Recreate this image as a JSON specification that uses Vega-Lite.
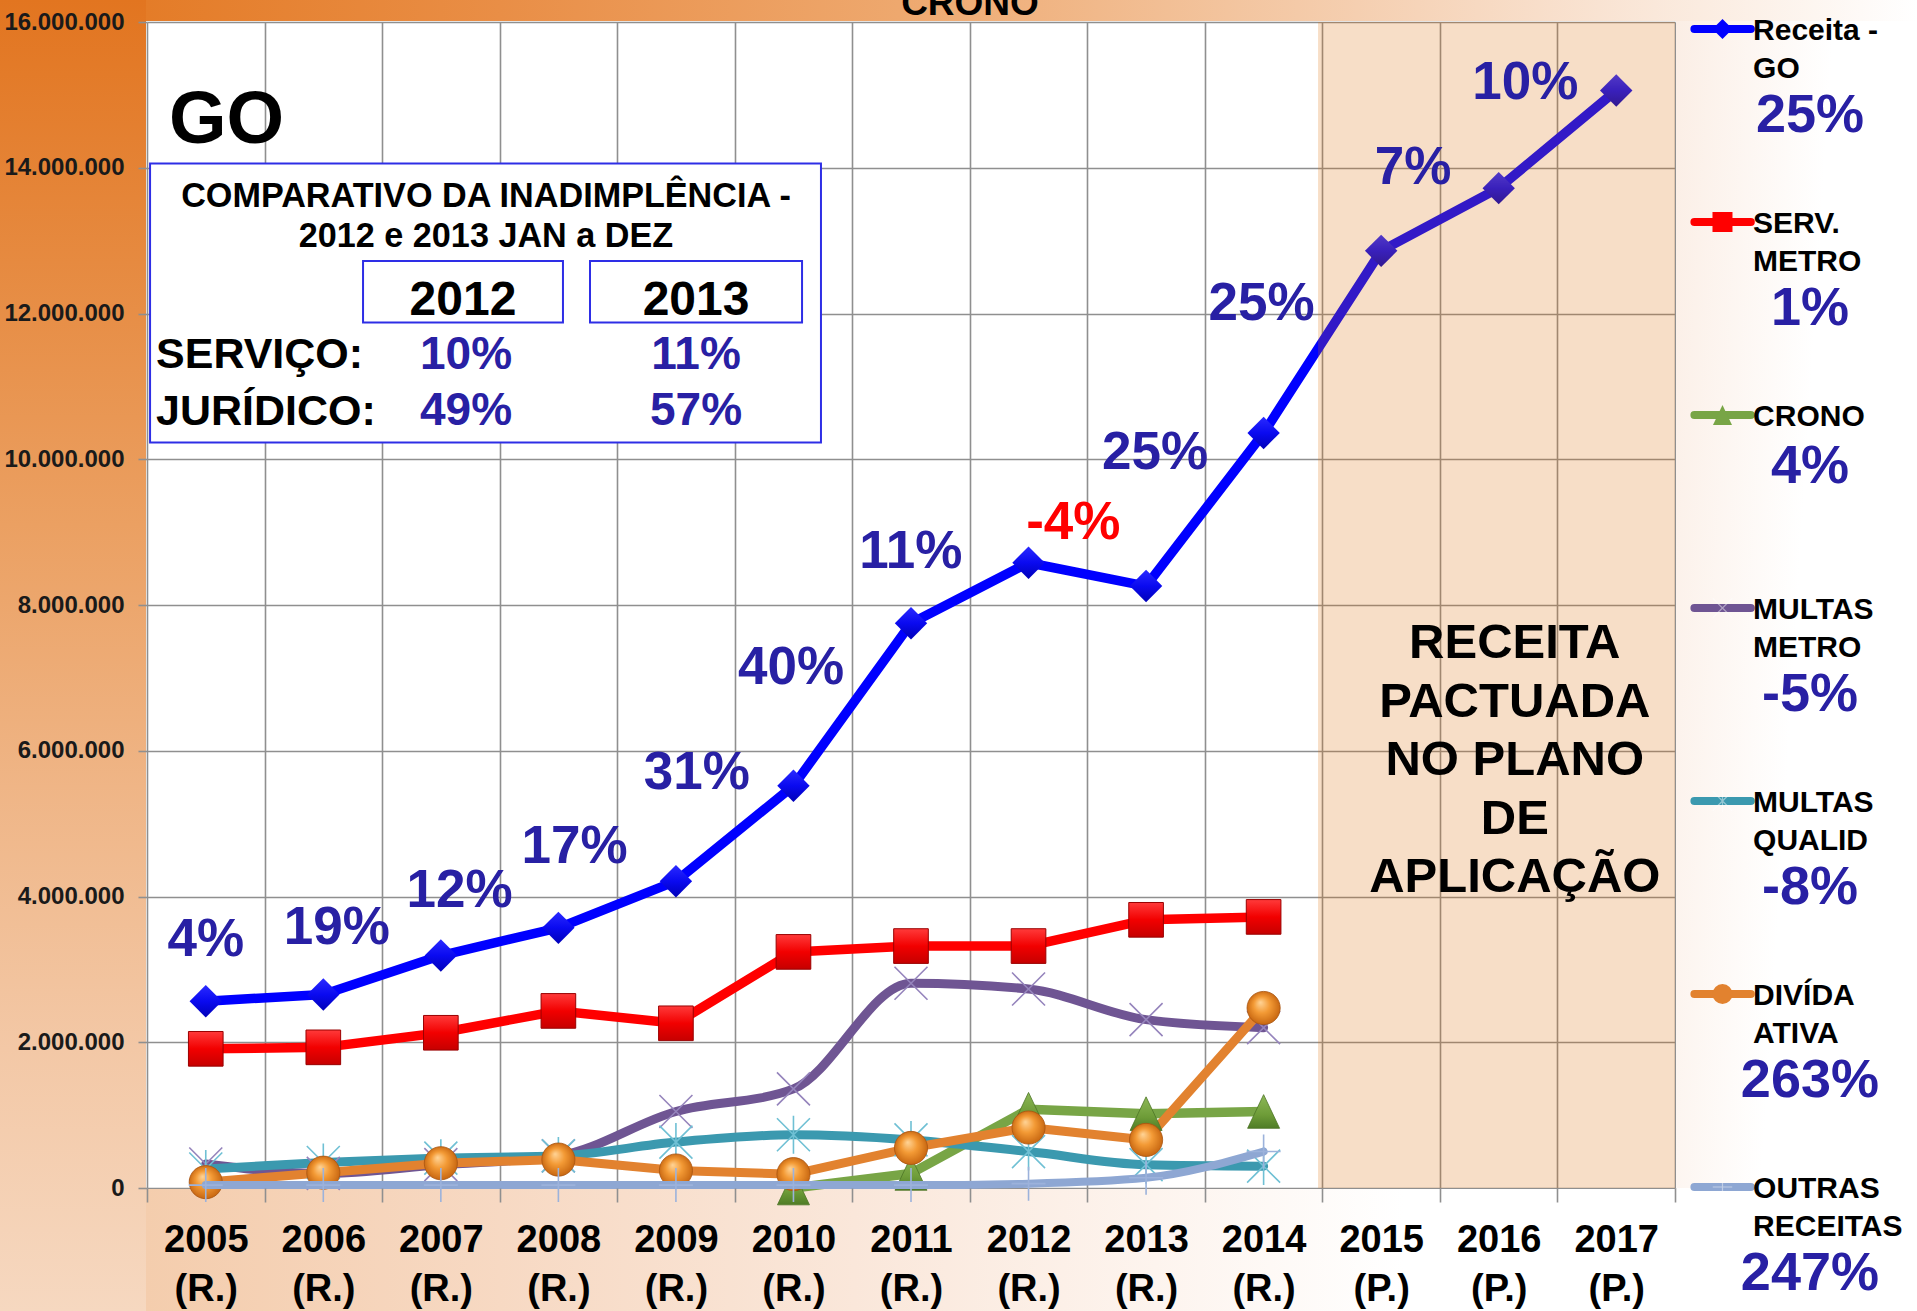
{
  "$schema": "https://vega.github.io/schema/vega-lite/v6.json",
  "width": 1528,
  "height": 1166,
  "autosize": {"type": "none"},
  "padding": {"left": 147, "top": 22, "right": 242, "bottom": 123},
  "background": "#FFFFFF",
  "config": {"view": {"stroke": null}},
  "datasets": {
    "series": [
      {"serie": "Receita - GO", "ano": 2005, "valor": 2563000},
      {"serie": "Receita - GO", "ano": 2006, "valor": 2655000},
      {"serie": "Receita - GO", "ano": 2007, "valor": 3190000},
      {"serie": "Receita - GO", "ano": 2008, "valor": 3570000},
      {"serie": "Receita - GO", "ano": 2009, "valor": 4210000},
      {"serie": "Receita - GO", "ano": 2010, "valor": 5520000},
      {"serie": "Receita - GO", "ano": 2011, "valor": 7750000},
      {"serie": "Receita - GO", "ano": 2012, "valor": 8580000},
      {"serie": "Receita - GO", "ano": 2013, "valor": 8260000},
      {"serie": "Receita - GO", "ano": 2014, "valor": 10360000},
      {"serie": "Receita - GO", "ano": 2015, "valor": 12860000},
      {"serie": "Receita - GO", "ano": 2016, "valor": 13720000},
      {"serie": "Receita - GO", "ano": 2017, "valor": 15060000},
      {"serie": "SERV. METRO", "ano": 2005, "valor": 1910000},
      {"serie": "SERV. METRO", "ano": 2006, "valor": 1930000},
      {"serie": "SERV. METRO", "ano": 2007, "valor": 2130000},
      {"serie": "SERV. METRO", "ano": 2008, "valor": 2430000},
      {"serie": "SERV. METRO", "ano": 2009, "valor": 2260000},
      {"serie": "SERV. METRO", "ano": 2010, "valor": 3240000},
      {"serie": "SERV. METRO", "ano": 2011, "valor": 3320000},
      {"serie": "SERV. METRO", "ano": 2012, "valor": 3320000},
      {"serie": "SERV. METRO", "ano": 2013, "valor": 3680000},
      {"serie": "SERV. METRO", "ano": 2014, "valor": 3720000},
      {"serie": "CRONO", "ano": 2010, "valor": 0},
      {"serie": "CRONO", "ano": 2011, "valor": 200000},
      {"serie": "CRONO", "ano": 2012, "valor": 1080000},
      {"serie": "CRONO", "ano": 2013, "valor": 1020000},
      {"serie": "CRONO", "ano": 2014, "valor": 1050000},
      {"serie": "MULTAS METRO", "ano": 2005, "valor": 330000},
      {"serie": "MULTAS METRO", "ano": 2006, "valor": 200000},
      {"serie": "MULTAS METRO", "ano": 2007, "valor": 320000},
      {"serie": "MULTAS METRO", "ano": 2008, "valor": 440000},
      {"serie": "MULTAS METRO", "ano": 2009, "valor": 1050000},
      {"serie": "MULTAS METRO", "ano": 2010, "valor": 1360000},
      {"serie": "MULTAS METRO", "ano": 2011, "valor": 2810000},
      {"serie": "MULTAS METRO", "ano": 2012, "valor": 2730000},
      {"serie": "MULTAS METRO", "ano": 2013, "valor": 2310000},
      {"serie": "MULTAS METRO", "ano": 2014, "valor": 2200000},
      {"serie": "MULTAS QUALID", "ano": 2005, "valor": 260000},
      {"serie": "MULTAS QUALID", "ano": 2006, "valor": 350000},
      {"serie": "MULTAS QUALID", "ano": 2007, "valor": 410000},
      {"serie": "MULTAS QUALID", "ano": 2008, "valor": 440000},
      {"serie": "MULTAS QUALID", "ano": 2009, "valor": 630000},
      {"serie": "MULTAS QUALID", "ano": 2010, "valor": 730000},
      {"serie": "MULTAS QUALID", "ano": 2011, "valor": 660000},
      {"serie": "MULTAS QUALID", "ano": 2012, "valor": 500000},
      {"serie": "MULTAS QUALID", "ano": 2013, "valor": 320000},
      {"serie": "MULTAS QUALID", "ano": 2014, "valor": 300000},
      {"serie": "DIVÍDA ATIVA", "ano": 2005, "valor": 80000},
      {"serie": "DIVÍDA ATIVA", "ano": 2006, "valor": 210000},
      {"serie": "DIVÍDA ATIVA", "ano": 2007, "valor": 340000},
      {"serie": "DIVÍDA ATIVA", "ano": 2008, "valor": 390000},
      {"serie": "DIVÍDA ATIVA", "ano": 2009, "valor": 240000},
      {"serie": "DIVÍDA ATIVA", "ano": 2010, "valor": 190000},
      {"serie": "DIVÍDA ATIVA", "ano": 2011, "valor": 550000},
      {"serie": "DIVÍDA ATIVA", "ano": 2012, "valor": 830000},
      {"serie": "DIVÍDA ATIVA", "ano": 2013, "valor": 660000},
      {"serie": "DIVÍDA ATIVA", "ano": 2014, "valor": 2470000},
      {"serie": "OUTRAS RECEITAS", "ano": 2005, "valor": 40000},
      {"serie": "OUTRAS RECEITAS", "ano": 2006, "valor": 40000},
      {"serie": "OUTRAS RECEITAS", "ano": 2007, "valor": 40000},
      {"serie": "OUTRAS RECEITAS", "ano": 2008, "valor": 40000},
      {"serie": "OUTRAS RECEITAS", "ano": 2009, "valor": 40000},
      {"serie": "OUTRAS RECEITAS", "ano": 2010, "valor": 40000},
      {"serie": "OUTRAS RECEITAS", "ano": 2011, "valor": 40000},
      {"serie": "OUTRAS RECEITAS", "ano": 2012, "valor": 60000},
      {"serie": "OUTRAS RECEITAS", "ano": 2013, "valor": 140000},
      {"serie": "OUTRAS RECEITAS", "ano": 2014, "valor": 500000}
    ],
    "rotulos": [
      {"texto": "4%", "x_ano": 2005.0, "y_valor": 3403000},
      {"texto": "19%", "x_ano": 2006.114, "y_valor": 3561000},
      {"texto": "12%", "x_ano": 2007.159, "y_valor": 4073000},
      {"texto": "17%", "x_ano": 2008.138, "y_valor": 4682000},
      {"texto": "31%", "x_ano": 2009.178, "y_valor": 5689000},
      {"texto": "40%", "x_ano": 2009.979, "y_valor": 7131000},
      {"texto": "11%", "x_ano": 2010.998, "y_valor": 8726000},
      {"texto": "-4%", "x_ano": 2012.381, "y_valor": 9128000},
      {"texto": "25%", "x_ano": 2013.076, "y_valor": 10079000},
      {"texto": "25%", "x_ano": 2013.982, "y_valor": 12124000},
      {"texto": "7%", "x_ano": 2015.271, "y_valor": 13997000},
      {"texto": "10%", "x_ano": 2016.227, "y_valor": 15160000}
    ],
    "legenda": [
      {"serie": "Receita - GO", "linhas": ["Receita -", "GO"], "pct": "25%"},
      {"serie": "SERV. METRO", "linhas": ["SERV.", "METRO"], "pct": "1%"},
      {"serie": "CRONO", "linhas": ["CRONO"], "pct": "4%"},
      {"serie": "MULTAS METRO", "linhas": ["MULTAS", "METRO"], "pct": "-5%"},
      {"serie": "MULTAS QUALID", "linhas": ["MULTAS", "QUALID"], "pct": "-8%"},
      {"serie": "DIVÍDA ATIVA", "linhas": ["DIVÍDA", "ATIVA"], "pct": "263%"},
      {"serie": "OUTRAS RECEITAS", "linhas": ["OUTRAS", "RECEITAS"], "pct": "247%"}
    ]
  },
  "resolve": {"scale": {"y": "independent"}},
  "layer": [
    {
      "resolve": {"axis": {"x": "independent", "y": "independent"}},
      "layer": [
        {
          "data": {"values": [{}]},
          "mark": {"type": "rect", "fill": {"gradient": "linear", "x1": 0, "y1": 0, "x2": 0, "y2": 1, "stops": [{"offset": 0, "color": "#E27520"}, {"offset": 0.2, "color": "#E68A40"}, {"offset": 0.4, "color": "#EBA062"}, {"offset": 0.6, "color": "#EFB586"}, {"offset": 0.8, "color": "#F3C8A6"}, {"offset": 1, "color": "#F6D8C0"}]}},
          "encoding": {"x": {"datum": 2003.2, "type": "quantitative", "axis": null}, "x2": {"datum": 2004.4915}, "y": {"datum": -1687800, "type": "quantitative", "axis": null}, "y2": {"datum": 16302000}}
        },
        {
          "data": {"values": [{}]},
          "mark": {"type": "rect", "fill": {"gradient": "linear", "x1": 0, "y1": 0, "x2": 1, "y2": 0, "stops": [{"offset": 0, "color": "#E47C28"}, {"offset": 0.2, "color": "#E98E46"}, {"offset": 0.425, "color": "#EEA86E"}, {"offset": 0.65, "color": "#F4CAA8"}, {"offset": 0.82, "color": "#F9E3D2"}, {"offset": 1, "color": "#FFFFFF"}]}},
          "encoding": {"x": {"datum": 2004.4915, "type": "quantitative", "axis": null}, "x2": {"datum": 2019.56}, "y": {"datum": 16014000, "type": "quantitative", "axis": null}, "y2": {"datum": 16302000}}
        },
        {
          "data": {"values": [{}]},
          "mark": {"type": "rect", "fill": {"gradient": "linear", "x1": 0, "y1": 0, "x2": 1, "y2": 0.3, "stops": [{"offset": 0, "color": "#FBEEE5"}, {"offset": 0.6, "color": "#FFFFFF"}]}},
          "encoding": {"x": {"datum": 2017.5085, "type": "quantitative", "axis": null}, "x2": {"datum": 2019.56}, "y": {"datum": 0, "type": "quantitative", "axis": null}, "y2": {"datum": 16014000}}
        },
        {
          "data": {"values": [{}]},
          "mark": {"type": "rect", "fill": {"gradient": "linear", "x1": 0, "y1": 0, "x2": 1, "y2": 0, "stops": [{"offset": 0, "color": "#F4CDAD"}, {"offset": 0.2, "color": "#F7D9C3"}, {"offset": 0.4, "color": "#FAE7DA"}, {"offset": 0.57, "color": "#FDF4EE"}, {"offset": 0.71, "color": "#FFFFFF"}, {"offset": 1, "color": "#FFFFFF"}]}},
          "encoding": {"x": {"datum": 2004.4915, "type": "quantitative", "axis": null}, "x2": {"datum": 2019.56}, "y": {"datum": -1687800, "type": "quantitative", "axis": null}, "y2": {"datum": -14000}}
        },
        {
          "data": {"values": [{}]},
          "mark": {"type": "text", "text": "CRONO", "font": "Liberation Sans", "fontWeight": "bold", "fontSize": 37, "align": "center", "baseline": "alphabetic", "color": "#000000"},
          "encoding": {"x": {"datum": 2011.502, "type": "quantitative", "axis": null}, "y": {"datum": 16096000, "type": "quantitative", "axis": null}}
        },
        {
          "data": {"name": "series"},
          "transform": [{"filter": {"field": "serie", "oneOf": ["Receita - GO", "SERV. METRO", "CRONO"]}}],
          "mark": {"type": "line", "strokeWidth": 9.5, "strokeJoin": "round", "strokeCap": "round"},
          "encoding": {
            "x": {"field": "ano", "type": "quantitative", "scale": {"domain": [2004.5, 2017.5], "nice": false, "zero": false},
              "axis": {"orient": "bottom", "values": [2004.5, 2005.5, 2006.5, 2007.5, 2008.5, 2009.5, 2010.5, 2011.5, 2012.5, 2013.5, 2014.5, 2015.5, 2016.5, 2017.5], "grid": true, "gridColor": "#8F8F8F", "gridWidth": 1.6, "labels": false, "ticks": false, "domain": false, "title": null, "zindex": 0}},
            "y": {"field": "valor", "type": "quantitative", "scale": {"domain": [0, 16000000], "nice": false, "zero": false},
              "axis": {"orient": "left", "values": [0, 2000000, 4000000, 6000000, 8000000, 10000000, 12000000, 14000000, 16000000], "grid": true, "gridColor": "#8F8F8F", "gridWidth": 1.6, "labels": false, "ticks": false, "domain": false, "title": null, "zindex": 0}},
            "color": {"field": "serie", "type": "nominal", "scale": {"domain": ["Receita - GO", "SERV. METRO", "CRONO", "MULTAS METRO", "MULTAS QUALID", "DIVÍDA ATIVA", "OUTRAS RECEITAS"], "range": ["#0000FF", "#FF0000", "#78A546", "#6F5593", "#3B99AF", "#E2822F", "#8EA7D3"]}, "legend": null}
          }
        },
        {
          "data": {"name": "series"},
          "transform": [{"filter": {"field": "serie", "oneOf": ["MULTAS METRO", "MULTAS QUALID"]}}],
          "mark": {"type": "line", "strokeWidth": 9, "strokeJoin": "round", "strokeCap": "round", "interpolate": "monotone"},
          "encoding": {
            "x": {"field": "ano", "type": "quantitative", "axis": null},
            "y": {"field": "valor", "type": "quantitative", "axis": null},
            "color": {"field": "serie", "type": "nominal", "scale": {"domain": ["Receita - GO", "SERV. METRO", "CRONO", "MULTAS METRO", "MULTAS QUALID", "DIVÍDA ATIVA", "OUTRAS RECEITAS"], "range": ["#0000FF", "#FF0000", "#78A546", "#6F5593", "#3B99AF", "#E2822F", "#8EA7D3"]}, "legend": null}
          }
        },
        {
          "data": {"name": "series"},
          "transform": [{"filter": {"field": "serie", "equal": "DIVÍDA ATIVA"}}],
          "mark": {"type": "line", "strokeWidth": 9, "strokeJoin": "round", "strokeCap": "round", "color": "#E2822F"},
          "encoding": {
            "x": {"field": "ano", "type": "quantitative", "axis": null},
            "y": {"field": "valor", "type": "quantitative", "axis": null}
          }
        },
        {
          "data": {"name": "series"},
          "transform": [{"filter": {"field": "serie", "equal": "Receita - GO"}}],
          "mark": {"type": "point", "shape": "diamond", "size": 1050, "filled": true, "opacity": 1, "strokeWidth": 0,
            "fill": {"gradient": "linear", "x1": 0, "y1": 0, "x2": 0, "y2": 1, "stops": [{"offset": 0, "color": "#2A2AFF"}, {"offset": 0.5, "color": "#0A0AF0"}, {"offset": 1, "color": "#0000B8"}]}},
          "encoding": {
            "x": {"field": "ano", "type": "quantitative", "scale": {"domain": [2004.5, 2017.5], "nice": false, "zero": false},
              "axis": {"orient": "bottom", "values": [2004.5, 2005.5, 2006.5, 2007.5, 2008.5, 2009.5, 2010.5, 2011.5, 2012.5, 2013.5, 2014.5, 2015.5, 2016.5, 2017.5], "grid": false, "domain": false, "ticks": true, "tickSize": 14, "tickColor": "#8F8F8F", "tickWidth": 1.6,
                "labelExpr": "datum.value < 2017 ? ['' + (datum.value + 0.5), (datum.value < 2014 ? '(R.)' : '(P.)')] : ''",
                "labelOffset": 58.77, "labelPadding": 19, "labelFont": "Liberation Sans", "labelFontSize": 38, "labelFontWeight": "bold", "labelColor": "#000000", "labelLineHeight": 49, "labelBaseline": "top", "labelAlign": "center", "labelOverlap": false, "labelFlush": false, "labelBound": false, "title": null, "zindex": 1}},
            "y": {"field": "valor", "type": "quantitative", "scale": {"domain": [0, 16000000], "nice": false, "zero": false},
              "axis": {"orient": "left", "values": [0, 2000000, 4000000, 6000000, 8000000, 10000000, 12000000, 14000000, 16000000], "grid": false, "domain": false, "ticks": true, "tickSize": 9, "tickColor": "#8F8F8F", "tickWidth": 1.6,
                "labelExpr": "replace(format(datum.value, ',d'), regexp(',', 'g'), '.')",
                "labelPadding": 14, "labelFont": "Liberation Sans", "labelFontSize": 24, "labelFontWeight": "bold", "labelColor": "#1A1A1A", "labelOverlap": false, "labelFlush": false, "labelBound": false, "title": null, "zindex": 1}}
          }
        },
        {
          "data": {"name": "series"},
          "transform": [{"filter": {"field": "serie", "equal": "SERV. METRO"}}],
          "mark": {"type": "point", "shape": "square", "size": 1200, "filled": true, "opacity": 1, "stroke": "#9A0000", "strokeWidth": 1,
            "fill": {"gradient": "linear", "x1": 0, "y1": 0, "x2": 0, "y2": 1, "stops": [{"offset": 0, "color": "#FF3A3A"}, {"offset": 0.5, "color": "#F20000"}, {"offset": 1, "color": "#C60000"}]}},
          "encoding": {
            "x": {"field": "ano", "type": "quantitative", "axis": null},
            "y": {"field": "valor", "type": "quantitative", "axis": null}
          }
        },
        {
          "data": {"name": "series"},
          "transform": [{"filter": {"field": "serie", "equal": "CRONO"}}],
          "mark": {"type": "point", "shape": "M0,-1L-0.95,1L0.95,1Z", "size": 1135, "filled": true, "opacity": 1, "stroke": "#4C7526", "strokeWidth": 0.8,
            "fill": {"gradient": "linear", "x1": 0, "y1": 0, "x2": 0, "y2": 1, "stops": [{"offset": 0, "color": "#8DB857"}, {"offset": 0.6, "color": "#6E9C38"}, {"offset": 1, "color": "#4F7C26"}]}},
          "encoding": {
            "x": {"field": "ano", "type": "quantitative", "axis": null},
            "y": {"field": "valor", "type": "quantitative", "axis": null}
          }
        },
        {
          "data": {"name": "series"},
          "transform": [{"filter": {"field": "serie", "equal": "MULTAS METRO"}}],
          "mark": {"type": "point", "shape": "M-1,-1L1,1M-1,1L1,-1", "size": 1089, "filled": false, "opacity": 1, "stroke": "#9584BC", "strokeWidth": 1.6},
          "encoding": {
            "x": {"field": "ano", "type": "quantitative", "axis": null},
            "y": {"field": "valor", "type": "quantitative", "axis": null}
          }
        },
        {
          "data": {"name": "series"},
          "transform": [{"filter": {"field": "serie", "equal": "MULTAS QUALID"}}],
          "mark": {"type": "point", "shape": "M-1,-1L1,1M-1,1L1,-1M0,-1.15L0,1.15", "size": 1089, "filled": false, "opacity": 1, "stroke": "#6FC0D4", "strokeWidth": 1.6},
          "encoding": {
            "x": {"field": "ano", "type": "quantitative", "axis": null},
            "y": {"field": "valor", "type": "quantitative", "axis": null}
          }
        },
        {
          "data": {"name": "series"},
          "transform": [{"filter": {"field": "serie", "equal": "DIVÍDA ATIVA"}}],
          "mark": {"type": "point", "shape": "circle", "size": 1100, "filled": true, "opacity": 1, "stroke": "#A85410", "strokeWidth": 0.8,
            "fill": {"gradient": "radial", "x1": 0.4, "y1": 0.33, "r1": 0, "x2": 0.5, "y2": 0.5, "r2": 0.55, "stops": [{"offset": 0, "color": "#FFD497"}, {"offset": 0.45, "color": "#F39A35"}, {"offset": 1, "color": "#C2600C"}]}},
          "encoding": {
            "x": {"field": "ano", "type": "quantitative", "axis": null},
            "y": {"field": "valor", "type": "quantitative", "axis": null}
          }
        },
        {
          "data": {"name": "series"},
          "transform": [{"filter": {"field": "serie", "equal": "OUTRAS RECEITAS"}}],
          "mark": {"type": "line", "strokeWidth": 8, "strokeJoin": "round", "strokeCap": "round", "interpolate": "monotone", "color": "#8EA7D3"},
          "encoding": {
            "x": {"field": "ano", "type": "quantitative", "axis": null},
            "y": {"field": "valor", "type": "quantitative", "axis": null}
          }
        },
        {
          "data": {"name": "series"},
          "transform": [{"filter": {"field": "serie", "equal": "OUTRAS RECEITAS"}}],
          "mark": {"type": "point", "shape": "M0,-1L0,1M-1,0L1,0", "size": 1156, "filled": false, "opacity": 1, "stroke": "#9CB2DB", "strokeWidth": 1.6},
          "encoding": {
            "x": {"field": "ano", "type": "quantitative", "axis": null},
            "y": {"field": "valor", "type": "quantitative", "axis": null}
          }
        },
        {
          "data": {"values": [{}]},
          "mark": {"type": "rect", "fill": "#DC6E0A", "opacity": 0.227},
          "encoding": {"x": {"datum": 2014.463, "type": "quantitative", "axis": null}, "x2": {"datum": 2017.5}, "y": {"datum": 0, "type": "quantitative", "axis": null}, "y2": {"datum": 16000000}}
        },
        {
          "data": {"name": "rotulos"},
          "mark": {"type": "text", "font": "Liberation Sans", "fontWeight": "bold", "fontSize": 53, "align": "center", "baseline": "middle"},
          "encoding": {
            "x": {"field": "x_ano", "type": "quantitative", "axis": null},
            "y": {"field": "y_valor", "type": "quantitative", "axis": null},
            "text": {"field": "texto", "type": "nominal"},
            "color": {"condition": {"test": "indexof(datum.texto, '-') === 0", "value": "#FF0000"}, "value": "#2820A4"}
          }
        },
        {
          "data": {"values": [{}]},
          "mark": {"type": "text", "text": ["RECEITA", "PACTUADA", "NO PLANO", "DE", "APLICAÇÃO"], "font": "Liberation Sans", "fontWeight": "bold", "fontSize": 49, "lineHeight": 58.4, "align": "center", "baseline": "alphabetic", "color": "#000000"},
          "encoding": {"x": {"datum": 2016.137, "type": "quantitative", "axis": null}, "y": {"datum": 7266000, "type": "quantitative", "axis": null}}
        },
        {
          "data": {"values": [{}]},
          "mark": {"type": "text", "text": "GO", "font": "Liberation Sans", "fontWeight": "bold", "fontSize": 74, "align": "left", "baseline": "alphabetic", "color": "#000000"},
          "encoding": {"x": {"datum": 2004.687, "type": "quantitative", "axis": null}, "y": {"datum": 14333000, "type": "quantitative", "axis": null}}
        },
        {
          "data": {"values": [{}]},
          "mark": {"type": "rect", "fill": "#FFFFFF", "stroke": "#2E2EE6", "strokeWidth": 2},
          "encoding": {"x": {"datum": 2004.526, "type": "quantitative", "axis": null}, "x2": {"datum": 2010.234}, "y": {"datum": 10230000, "type": "quantitative", "axis": null}, "y2": {"datum": 14058000}}
        },
        {
          "data": {"values": [{}]},
          "mark": {"type": "rect", "fill": "#FFFFFF", "stroke": "#2E2EE6", "strokeWidth": 2},
          "encoding": {"x": {"datum": 2006.338, "type": "quantitative", "axis": null}, "x2": {"datum": 2008.039}, "y": {"datum": 11877000, "type": "quantitative", "axis": null}, "y2": {"datum": 12720000}}
        },
        {
          "data": {"values": [{}]},
          "mark": {"type": "rect", "fill": "#FFFFFF", "stroke": "#2E2EE6", "strokeWidth": 2},
          "encoding": {"x": {"datum": 2008.269, "type": "quantitative", "axis": null}, "x2": {"datum": 2010.073}, "y": {"datum": 11877000, "type": "quantitative", "axis": null}, "y2": {"datum": 12720000}}
        },
        {
          "data": {"values": [{}]},
          "mark": {"type": "text", "text": ["COMPARATIVO DA INADIMPLÊNCIA -", "2012 e 2013 JAN a DEZ"], "font": "Liberation Sans", "fontWeight": "bold", "fontSize": 34.2, "lineHeight": 40, "align": "center", "baseline": "alphabetic", "color": "#000000"},
          "encoding": {"x": {"datum": 2007.384, "type": "quantitative", "axis": null}, "y": {"datum": 13455000, "type": "quantitative", "axis": null}}
        },
        {
          "data": {"values": [{}]},
          "mark": {"type": "text", "text": "2012", "font": "Liberation Sans", "fontWeight": "bold", "fontSize": 48, "align": "center", "baseline": "alphabetic", "color": "#000000"},
          "encoding": {"x": {"datum": 2007.188, "type": "quantitative", "axis": null}, "y": {"datum": 11986000, "type": "quantitative", "axis": null}}
        },
        {
          "data": {"values": [{}]},
          "mark": {"type": "text", "text": "2013", "font": "Liberation Sans", "fontWeight": "bold", "fontSize": 48, "align": "center", "baseline": "alphabetic", "color": "#000000"},
          "encoding": {"x": {"datum": 2009.171, "type": "quantitative", "axis": null}, "y": {"datum": 11986000, "type": "quantitative", "axis": null}}
        },
        {
          "data": {"values": [{}]},
          "mark": {"type": "text", "text": ["SERVIÇO:", "JURÍDICO:"], "font": "Liberation Sans", "fontWeight": "bold", "fontSize": 43, "lineHeight": 57, "align": "left", "baseline": "alphabetic", "color": "#000000"},
          "encoding": {"x": {"datum": 2004.577, "type": "quantitative", "axis": null}, "y": {"datum": 11259000, "type": "quantitative", "axis": null}}
        },
        {
          "data": {"values": [{}]},
          "mark": {"type": "text", "text": ["10%", "49%"], "font": "Liberation Sans", "fontWeight": "bold", "fontSize": 46, "lineHeight": 56, "align": "center", "baseline": "alphabetic", "color": "#2820A4"},
          "encoding": {"x": {"datum": 2007.214, "type": "quantitative", "axis": null}, "y": {"datum": 11232000, "type": "quantitative", "axis": null}}
        },
        {
          "data": {"values": [{}]},
          "mark": {"type": "text", "text": ["11%", "57%"], "font": "Liberation Sans", "fontWeight": "bold", "fontSize": 46, "lineHeight": 56, "align": "center", "baseline": "alphabetic", "color": "#2820A4"},
          "encoding": {"x": {"datum": 2009.171, "type": "quantitative", "axis": null}, "y": {"datum": 11232000, "type": "quantitative", "axis": null}}
        }
      ]
    },
    {
      "data": {"name": "legenda"},
      "encoding": {
        "y": {"field": "serie", "type": "nominal", "scale": {"type": "point", "domain": ["Receita - GO", "SERV. METRO", "CRONO", "MULTAS METRO", "MULTAS QUALID", "DIVÍDA ATIVA", "OUTRAS RECEITAS"], "range": [7, 1165], "padding": 0}, "axis": null}
      },
      "layer": [
        {
          "mark": {"type": "rule", "strokeWidth": 8, "strokeCap": "round"},
          "encoding": {
            "x": {"datum": 2017.665, "type": "quantitative", "axis": null},
            "x2": {"datum": 2018.145},
            "color": {"field": "serie", "type": "nominal", "scale": {"domain": ["Receita - GO", "SERV. METRO", "CRONO", "MULTAS METRO", "MULTAS QUALID", "DIVÍDA ATIVA", "OUTRAS RECEITAS"], "range": ["#0000FF", "#FF0000", "#78A546", "#6F5593", "#3B99AF", "#E2822F", "#8EA7D3"]}, "legend": null}
          }
        },
        {
          "transform": [{"filter": {"field": "serie", "oneOf": ["Receita - GO", "SERV. METRO", "CRONO", "DIVÍDA ATIVA"]}}],
          "mark": {"type": "point", "filled": true, "size": 400, "opacity": 1},
          "encoding": {
            "x": {"datum": 2017.904, "type": "quantitative", "axis": null},
            "shape": {"field": "serie", "type": "nominal", "scale": {"domain": ["Receita - GO", "SERV. METRO", "CRONO", "MULTAS METRO", "MULTAS QUALID", "DIVÍDA ATIVA", "OUTRAS RECEITAS"], "range": ["diamond", "square", "M0,-1L-0.95,1L0.95,1Z", "M-1,-1L1,1M-1,1L1,-1", "M-1,-1L1,1M-1,1L1,-1M0,-1.15L0,1.15", "circle", "M0,-1L0,1M-1,0L1,0"]}, "legend": null},
            "color": {"field": "serie", "type": "nominal", "legend": null}
          }
        },
        {
          "transform": [{"filter": {"field": "serie", "oneOf": ["MULTAS METRO", "MULTAS QUALID", "OUTRAS RECEITAS"]}}],
          "mark": {"type": "point", "filled": false, "size": 380, "opacity": 0.45, "stroke": "#FFFFFF", "strokeWidth": 1.2},
          "encoding": {
            "x": {"datum": 2017.904, "type": "quantitative", "axis": null},
            "shape": {"field": "serie", "type": "nominal", "legend": null}
          }
        },
        {
          "mark": {"type": "text", "font": "Liberation Sans", "fontWeight": "bold", "fontSize": 30, "lineHeight": 38, "align": "left", "baseline": "alphabetic", "dy": 11, "color": "#000000"},
          "encoding": {
            "x": {"datum": 2018.164, "type": "quantitative", "axis": null},
            "text": {"field": "linhas", "type": "nominal"}
          }
        },
        {
          "transform": [{"filter": {"not": {"field": "serie", "equal": "CRONO"}}}],
          "mark": {"type": "text", "font": "Liberation Sans", "fontWeight": "bold", "fontSize": 54, "align": "center", "baseline": "middle", "dy": 87, "color": "#2820A4"},
          "encoding": {
            "x": {"datum": 2018.648, "type": "quantitative", "axis": null},
            "text": {"field": "pct", "type": "nominal"}
          }
        },
        {
          "transform": [{"filter": {"field": "serie", "equal": "CRONO"}}],
          "mark": {"type": "text", "font": "Liberation Sans", "fontWeight": "bold", "fontSize": 54, "align": "center", "baseline": "middle", "dy": 52, "color": "#2820A4"},
          "encoding": {
            "x": {"datum": 2018.648, "type": "quantitative", "axis": null},
            "text": {"field": "pct", "type": "nominal"}
          }
        }
      ]
    }
  ]
}
